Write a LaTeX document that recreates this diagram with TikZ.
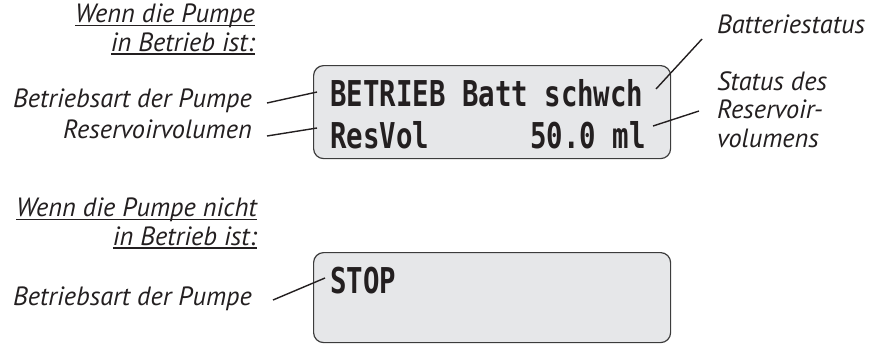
\documentclass[tikz,border=0pt]{standalone}
\usepackage{fontspec}
\setmainfont{PT Sans}
\newfontfamily\lcdfont[FakeStretch=0.77]{DejaVu Sans Mono Bold}
\definecolor{txt}{HTML}{231F20}
\definecolor{lcdbg}{HTML}{E6E7E9}
\definecolor{lcdline}{HTML}{3C3C3C}
\newsavebox{\ulbox}
\newcommand{\ulbl}[1]{\sbox{\ulbox}{#1}\rlap{\rule[-3.5bp]{\wd\ulbox}{1.1bp}}\usebox{\ulbox}}
\begin{document}
\begin{tikzpicture}[x=1bp,y=-1bp,
  lbl/.style={font=\fontsize{26.5}{28.5}\selectfont\itshape, text=txt, inner sep=0pt},
  lcdtxt/.style={font=\fontsize{35.7}{42}\selectfont\lcdfont, text=txt, inner sep=0pt},
  display/.style={draw=lcdline, fill=lcdbg, rounded corners=10bp, line width=1.2bp,
    anchor=north west, minimum width=357bp, minimum height=93bp, inner sep=0pt},
  leader/.style={draw=txt, line width=1.4bp}]
\useasboundingbox (0,0) rectangle (877,343);

% upper section
\node[lbl, anchor=base east, align=right] (head1) at (255,51)
  {\ulbl{Wenn die Pumpe}\\\ulbl{in Betrieb ist:}};
\node[display] (disp1) at (313,65) {};
\node[lcdtxt, anchor=base west] (row1) at (330,106) {BETRIEB Batt schwch};
\node[lcdtxt, anchor=base west] (row2a) at (330,148) {ResVol};
\node[lcdtxt, anchor=base west] (row2b) at (530,148) {50.0 ml};

\node[lbl, anchor=base east] (mode1) at (252,107) {Betriebsart der Pumpe};
\node[lbl, anchor=base east] (resvol) at (252,138) {Reservoirvolumen};
\node[lbl, anchor=base west] (batt) at (717,33) {Batteriestatus};
\node[lbl, anchor=base west, align=left] (resstat) at (717,147)
  {Status des\\Reservoir-\\volumens};

\coordinate (p1) at (317,92);
\coordinate (p2) at (317,128);
\coordinate (p3) at (656,89);
\coordinate (p4) at (653,126);
\coordinate (q3) at (702,39);
\coordinate (q4) at (699,111);
\draw[leader] ([xshift=15bp,yshift=4bp]mode1.base east) -- (p1);
\draw[leader] ([xshift=15bp,yshift=2bp]resvol.base east) -- (p2);
\draw[leader] (q3) -- (p3);
\draw[leader] (q4) -- (p4);

% lower section
\node[lbl, anchor=base east, align=right] (head2) at (257,245)
  {\ulbl{Wenn die Pumpe nicht}\\\ulbl{in Betrieb ist:}};
\node[display, minimum height=90bp] (disp2) at (313,252) {};
\node[lcdtxt, anchor=base west] (row3) at (330,293) {STOP};
\node[lbl, anchor=base east] (mode2) at (252,305) {Betriebsart der Pumpe};
\coordinate (p5) at (325,278);
\draw[leader] ([xshift=21bp,yshift=5bp]mode2.base east) -- (p5);
\end{tikzpicture}
\end{document}
